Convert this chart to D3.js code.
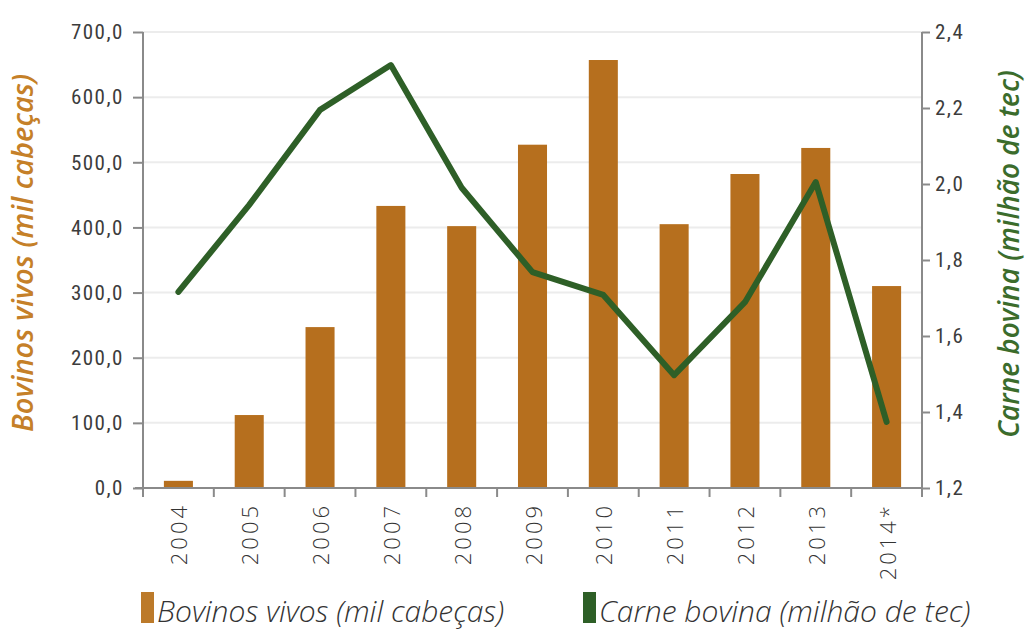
<!DOCTYPE html>
<html>
<head>
<meta charset="utf-8">
<script src="https://cdn.jsdelivr.net/npm/d3@7"></script>
<style>
  html, body { margin: 0; padding: 0; background: #fff; }
  svg { display: block; }
  .tick-num { font-family: "Liberation Sans Narrow", "Roboto Condensed", "DejaVu Sans Condensed", sans-serif; font-stretch: condensed; fill: #3c3c3c; letter-spacing: 1.5px; }
  .year { font-family: "Open Sans", "Noto Sans", sans-serif; font-weight: 300; fill: #333; letter-spacing: 3px; }
  .title { font-family: "Open Sans", "Noto Sans", sans-serif; font-style: italic; font-weight: 600; }
  .legend-text { font-family: "Open Sans", "Noto Sans", sans-serif; font-style: italic; font-weight: 300; fill: #333; }
</style>
</head>
<body>
<svg id="chart" width="1028" height="631"></svg>
<script>
// Exportações: bovinos vivos (barras) e carne bovina (linha)
const years = ["2004", "2005", "2006", "2007", "2008", "2009", "2010", "2011", "2012", "2013", "2014*"];
const bovinosVivos = [11, 112, 247, 433, 402, 527, 657, 405, 482, 522, 310];
const carneBovina = [1.716, 1.945, 2.195, 2.313, 1.99, 1.768, 1.708, 1.497, 1.689, 2.005, 1.374];
const leftTicks = [0, 100, 200, 300, 400, 500, 600, 700];
const rightTicks = [1.2, 1.4, 1.6, 1.8, 2.0, 2.2, 2.4];

const leftTitle = "Bovinos  vivos (mil cabeças)";
const rightTitle = "Carne bovina (milhão de tec)";
const legendLabels = ["Bovinos vivos (mil cabeças)", "Carne bovina (milhão de tec)"];

const barColor = "#b66f1e";
const lineColor = "#2e5f27";
const axisColor = "#8a8a8a";

const svg = d3.select("#chart");
const plotLeft = 143, plotRight = 922, plotTop = 32, plotBottom = 488;

const x = d3.scaleBand().domain(years).range([plotLeft, plotRight]).paddingInner(0.59).paddingOuter(0.295);
const yL = d3.scaleLinear().domain([0, 700]).range([plotBottom, plotTop]);
const yR = d3.scaleLinear().domain([1.2, 2.4]).range([plotBottom, plotTop]);
const fmt = v => d3.format(".1f")(v).replace(".", ",");

// grade horizontal
svg.append("g").selectAll("line").data(leftTicks.filter(d => d > 0)).join("line")
  .attr("x1", plotLeft).attr("x2", plotRight)
  .attr("y1", d => yL(d)).attr("y2", d => yL(d))
  .attr("stroke", "#ececec").attr("stroke-width", 2);

// barras
svg.append("g").selectAll("rect").data(years).join("rect")
  .attr("x", d => x(d))
  .attr("width", x.bandwidth())
  .attr("y", (d, i) => yL(bovinosVivos[i]))
  .attr("height", (d, i) => yL(0) - yL(bovinosVivos[i]))
  .attr("fill", barColor);

// eixo esquerdo
const gL = svg.append("g").attr("transform", `translate(${plotLeft},0)`)
  .call(d3.axisLeft(yL).tickValues(leftTicks).tickFormat(fmt).tickSize(10).tickPadding(9));
gL.select(".domain").attr("stroke", axisColor).attr("stroke-width", 2).attr("d", `M0,${plotTop}V${plotBottom + 9}`);
gL.selectAll(".tick line").attr("stroke", axisColor).attr("stroke-width", 2);
gL.selectAll(".tick text").attr("class", "tick-num").attr("font-size", 21).attr("fill", "#3c3c3c");

// eixo direito
const gR = svg.append("g").attr("transform", `translate(${plotRight},0)`)
  .call(d3.axisRight(yR).tickValues(rightTicks).tickFormat(fmt).tickSize(8).tickPadding(5));
gR.select(".domain").attr("stroke", axisColor).attr("stroke-width", 2).attr("d", `M0,${plotTop}V${plotBottom + 9}`);
gR.selectAll(".tick line").attr("stroke", axisColor).attr("stroke-width", 2);
gR.selectAll(".tick text").attr("class", "tick-num").attr("font-size", 21).attr("fill", "#3c3c3c");

// eixo das categorias
const step = x.step();
const bounds = d3.range(years.length + 1).map(i => plotLeft + i * step);
svg.append("line").attr("x1", plotLeft - 8).attr("x2", plotRight).attr("y1", plotBottom).attr("y2", plotBottom)
  .attr("stroke", axisColor).attr("stroke-width", 2);
svg.append("g").selectAll("line").data(bounds.slice(1, -1)).join("line")
  .attr("x1", d => d).attr("x2", d => d).attr("y1", plotBottom).attr("y2", plotBottom + 9)
  .attr("stroke", axisColor).attr("stroke-width", 2);

svg.append("g").selectAll("text").data(years).join("text")
  .attr("class", "year")
  .attr("font-size", 22)
  .attr("text-anchor", "end")
  .attr("dominant-baseline", "central")
  .attr("transform", d => `translate(${x(d) + x.bandwidth() / 2},${plotBottom + 15}) rotate(-90)`)
  .text(d => d);

// linha
const line = d3.line()
  .x((d, i) => x(years[i]) + x.bandwidth() / 2)
  .y(d => yR(d));
svg.append("path").datum(carneBovina)
  .attr("d", line)
  .attr("fill", "none")
  .attr("stroke", lineColor)
  .attr("stroke-width", 6)
  .attr("stroke-linejoin", "round")
  .attr("stroke-linecap", "round");

// títulos dos eixos
svg.append("text").attr("class", "title")
  .attr("transform", `translate(33,253) rotate(-90)`)
  .attr("text-anchor", "middle").attr("font-size", 29).attr("fill", "#c58028")
  .text(leftTitle);
svg.append("text").attr("class", "title")
  .attr("transform", `translate(1019,254) rotate(-90)`)
  .attr("text-anchor", "middle").attr("font-size", 28).attr("fill", "#3b6c2c")
  .text(rightTitle);

// legenda
const legend = svg.append("g");
const items = [
  { label: legendLabels[0], color: "#bc7a2a", x: 141 },
  { label: legendLabels[1], color: "#2e5f27", x: 583 }
];
items.forEach(it => {
  legend.append("rect").attr("x", it.x).attr("y", 592).attr("width", 13).attr("height", 31).attr("fill", it.color);
  legend.append("text").attr("class", "legend-text").attr("x", it.x + 16).attr("y", 622)
    .attr("font-size", 30).text(it.label);
});
</script>
</body>
</html>
